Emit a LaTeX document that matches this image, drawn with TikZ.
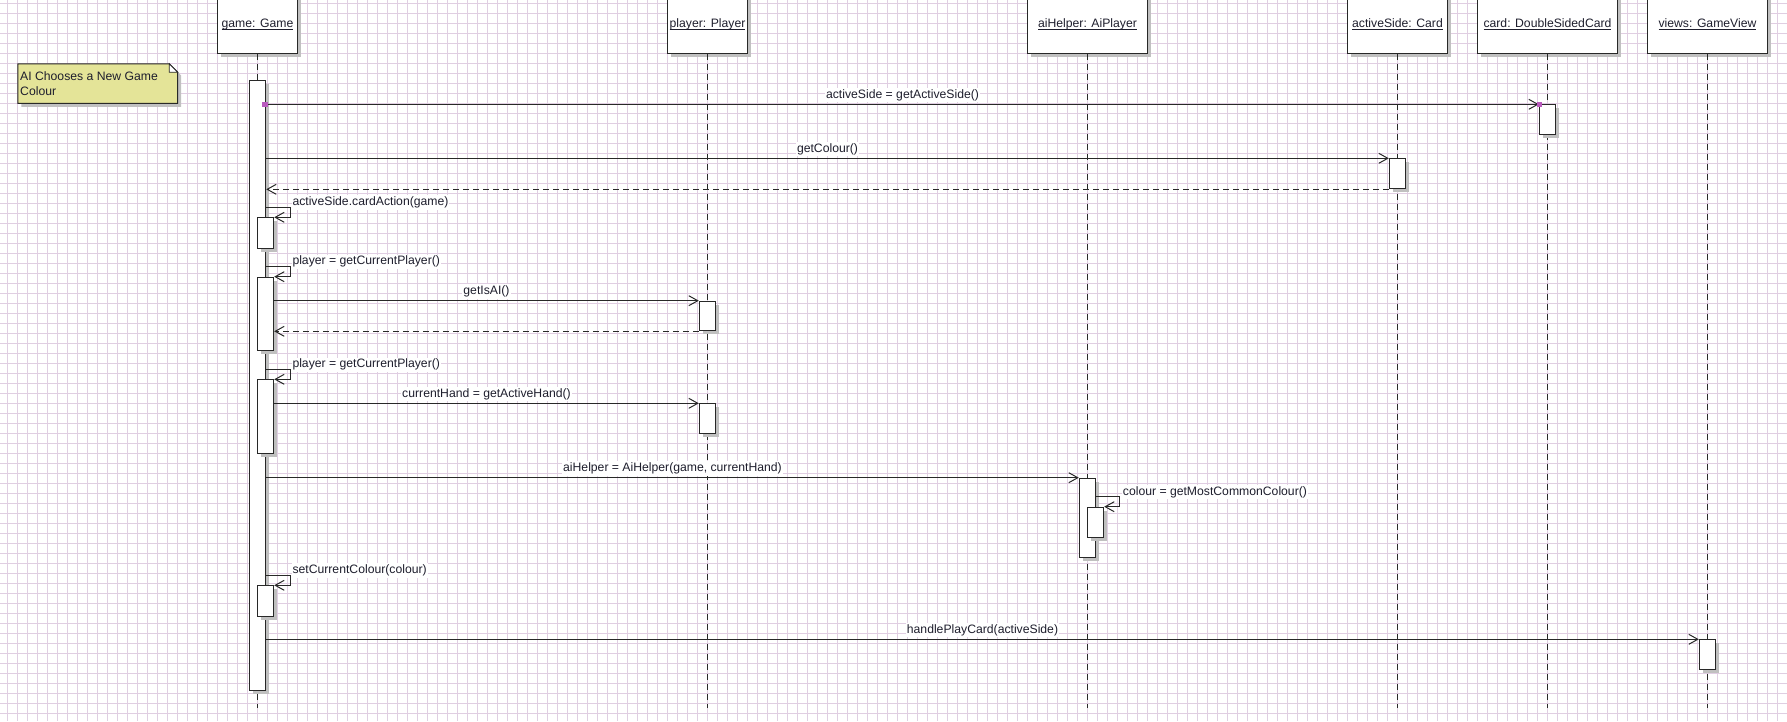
\documentclass[tikz,border=0pt]{standalone}
\usepackage{fontspec}
\setmainfont{Liberation Sans}
\usetikzlibrary{arrows.meta,shadows,calc}
\definecolor{gridc}{RGB}{224,206,226}
\definecolor{linec}{RGB}{40,40,40}
\definecolor{textc}{RGB}{30,30,45}
\definecolor{shadowc}{RGB}{192,192,192}
\definecolor{notec}{RGB}{228,228,152}
\definecolor{markc}{RGB}{185,90,190}
% underlined object name with a 1px rule just under the baseline
\newcommand\ulname[1]{\setbox0\hbox{#1}\rlap{\rule[-2.4pt]{\wd0}{0.9pt}}\box0}

\begin{document}
\begin{tikzpicture}[x=1pt,y=-1pt,
  every node/.style={font=\fontsize{12.2pt}{14pt}\selectfont, text=textc},
  boxshadow/.style={drop shadow={shadow xshift=3.5pt, shadow yshift=-3.5pt, fill=shadowc, opacity=1}},
  headbox/.style={draw=linec, fill=white, line width=1pt, minimum height=60pt,
    inner sep=0pt, anchor=south, boxshadow},
  headtext/.style={anchor=base, inner sep=0pt},
  lifeline/.style={draw=linec, line width=1pt, dash pattern=on 6pt off 4pt},
  actbar/.style={draw=linec, fill=white, line width=1pt, minimum width=16.4pt,
    inner sep=0pt, anchor=north, boxshadow},
  msg/.style={draw=linec, line width=1pt, -{Straight Barb[length=9pt,width=10pt]}},
  retmsg/.style={msg, dash pattern=on 6pt off 4pt},
  lbl/.style={fill=white, inner xsep=1pt, inner ysep=1.5pt, anchor=base},
  selflbl/.style={lbl, anchor=base west},
  handlemark/.style={fill=markc, minimum size=5.5pt, inner sep=0pt},
]
% canvas and background grid
\useasboundingbox (0,0) rectangle (1787,721);
\fill[white] (0,0) rectangle (1787,721);
\foreach \gx in {7.5,17.5,...,1787} \draw[gridc, line width=1pt] (\gx,0) -- (\gx,721);
\foreach \gy in {3.5,13.5,...,721} \draw[gridc, line width=1pt] (0,\gy) -- (1787,\gy);

% note
\fill[shadowc] (21.3,67.3) -- (173.3,67.3) -- (181.2,75.7) -- (181.2,106.8) -- (21.3,106.8) -- cycle;
\draw[fill=notec, draw=linec, line width=1pt] (17.8,63.8) -- (169.3,63.8) -- (177.7,72.2) -- (177.7,103.3) -- (17.8,103.3) -- cycle;
\draw[fill=white, draw=linec, line width=0.8pt] (169.3,63.8) -- (169.3,72.2) -- (177.7,72.2) -- cycle;
\node[anchor=base west, inner sep=0pt] (note1) at (20,80) {AI Chooses a New Game};
\node[anchor=base west, inner sep=0pt] (note2) at (20,95.7) {Colour};

% object heads
\node[headbox, minimum width=80.4pt]  (game)   at (257.5,53.5) {};
\node[headbox, minimum width=80.4pt]  (player) at (707.5,53.5) {};
\node[headbox, minimum width=120.4pt] (aih)    at (1087.5,53.5) {};
\node[headbox, minimum width=100.4pt] (side)   at (1397.5,53.5) {};
\node[headbox, minimum width=140.4pt] (card)   at (1547.5,53.5) {};
\node[headbox, minimum width=120.4pt] (views)  at (1707.5,53.5) {};
\node[headtext] (gameT)   at (257.5,27.3)  {\ulname{game: Game}};
\node[headtext] (playerT) at (707.5,27.3)  {\ulname{player: Player}};
\node[headtext] (aihT)    at (1087.5,27.3) {\ulname{aiHelper: AiPlayer}};
\node[headtext] (sideT)   at (1397.5,27.3) {\ulname{activeSide: Card}};
\node[headtext] (cardT)   at (1547.5,27.3) {\ulname{card: DoubleSidedCard}};
\node[headtext] (viewsT)  at (1707.5,27.3) {\ulname{views: GameView}};

% lifelines
\coordinate (lifeend) at (0,707.7);
\foreach \o in {game,player,aih,side,card,views}
  \draw[lifeline] (\o.south) -- (\o.south |- lifeend);

% activation bars
\node[actbar, minimum height=609.4pt] (main)  at (257.5,80.3) {};
\node[actbar, minimum height=30pt]    (cardB) at (1547.5,104.3) {};
\node[actbar, minimum height=30pt]    (sideB) at (1397.5,158.3) {};
\node[actbar, minimum height=30.4pt]  (n1)    at (265.5,217.3) {};
\node[actbar, minimum height=73.6pt]  (n2)    at (265.5,276.7) {};
\node[actbar, minimum height=29.6pt]  (plB1)  at (707.5,300.7) {};
\node[actbar, minimum height=74pt]    (n3)    at (265.5,379.3) {};
\node[actbar, minimum height=30pt]    (plB2)  at (707.5,403.3) {};
\node[actbar, minimum height=79pt]    (aiB)   at (1087.5,477.7) {};
\node[actbar, minimum height=30pt]    (aiN)   at (1095.5,506.7) {};
\node[actbar, minimum height=30.4pt]  (n4)    at (265.5,585.3) {};
\node[actbar, minimum height=30pt]    (viewB) at (1707.5,639.3) {};

% loop-back points of the self calls
\coordinate (s1) at ($(n1.north)+(0,-9.8)$);
\coordinate (s2) at ($(n2.north)+(0,-10)$);
\coordinate (s3) at ($(n3.north)+(0,-9.8)$);
\coordinate (s4) at ($(aiN.north)+(0,-10)$);
\coordinate (s5) at ($(n4.north)+(0,-10)$);

% messages
\draw[msg] (main.east |- cardB.north west) -- (cardB.north west);
\node[handlemark] (hm1) at (265.2,104.3) {};
\node[handlemark] (hm2) at (1539.3,104.4) {};
\draw[msg] (main.east |- sideB.north west) -- (sideB.north west);
\draw[retmsg] (sideB.south west) -- (main.east |- sideB.south west);
\draw[msg] (main.east |- s1) -- ++(24,0) |- (n1.north east);
\draw[msg] (main.east |- s2) -- ++(24,0) |- (n2.north east);
\draw[msg] (n2.east |- plB1.north west) -- (plB1.north west);
\draw[retmsg] (plB1.south west) -- (n2.east |- plB1.south west);
\draw[msg] (main.east |- s3) -- ++(24,0) |- (n3.north east);
\draw[msg] (n3.east |- plB2.north west) -- (plB2.north west);
\draw[msg] (main.east |- aiB.north west) -- (aiB.north west);
\draw[msg] (aiB.east |- s4) -- ++(23.6,0) |- (aiN.north east);
\draw[msg] (main.east |- s5) -- ++(24,0) |- (n4.north east);
\draw[msg] (main.east |- viewB.north west) -- (viewB.north west);

% message labels
\node[lbl] (l1) at (902.5,98.3) {activeSide = getActiveSide()};
\node[lbl] (l2) at (827.5,152.3) {getColour()};
\node[selflbl] (l3) at (291.3,205.7) {activeSide.cardAction(game)};
\node[selflbl] (l4) at (291.3,264.9) {player = getCurrentPlayer()};
\node[lbl] (l5) at (486.5,294.7) {getIsAI()};
\node[selflbl] (l6) at (291.3,367.9) {player = getCurrentPlayer()};
\node[lbl] (l7) at (486.5,397.3) {currentHand = getActiveHand()};
\node[lbl] (l8) at (672.5,471.7) {aiHelper = AiHelper(game, currentHand)};
\node[selflbl] (l9) at (1121.7,495) {colour = getMostCommonColour()};
\node[selflbl] (l10) at (291.3,573.6) {setCurrentColour(colour)};
\node[lbl] (l11) at (982.5,633.3) {handlePlayCard(activeSide)};
\end{tikzpicture}
\end{document}
